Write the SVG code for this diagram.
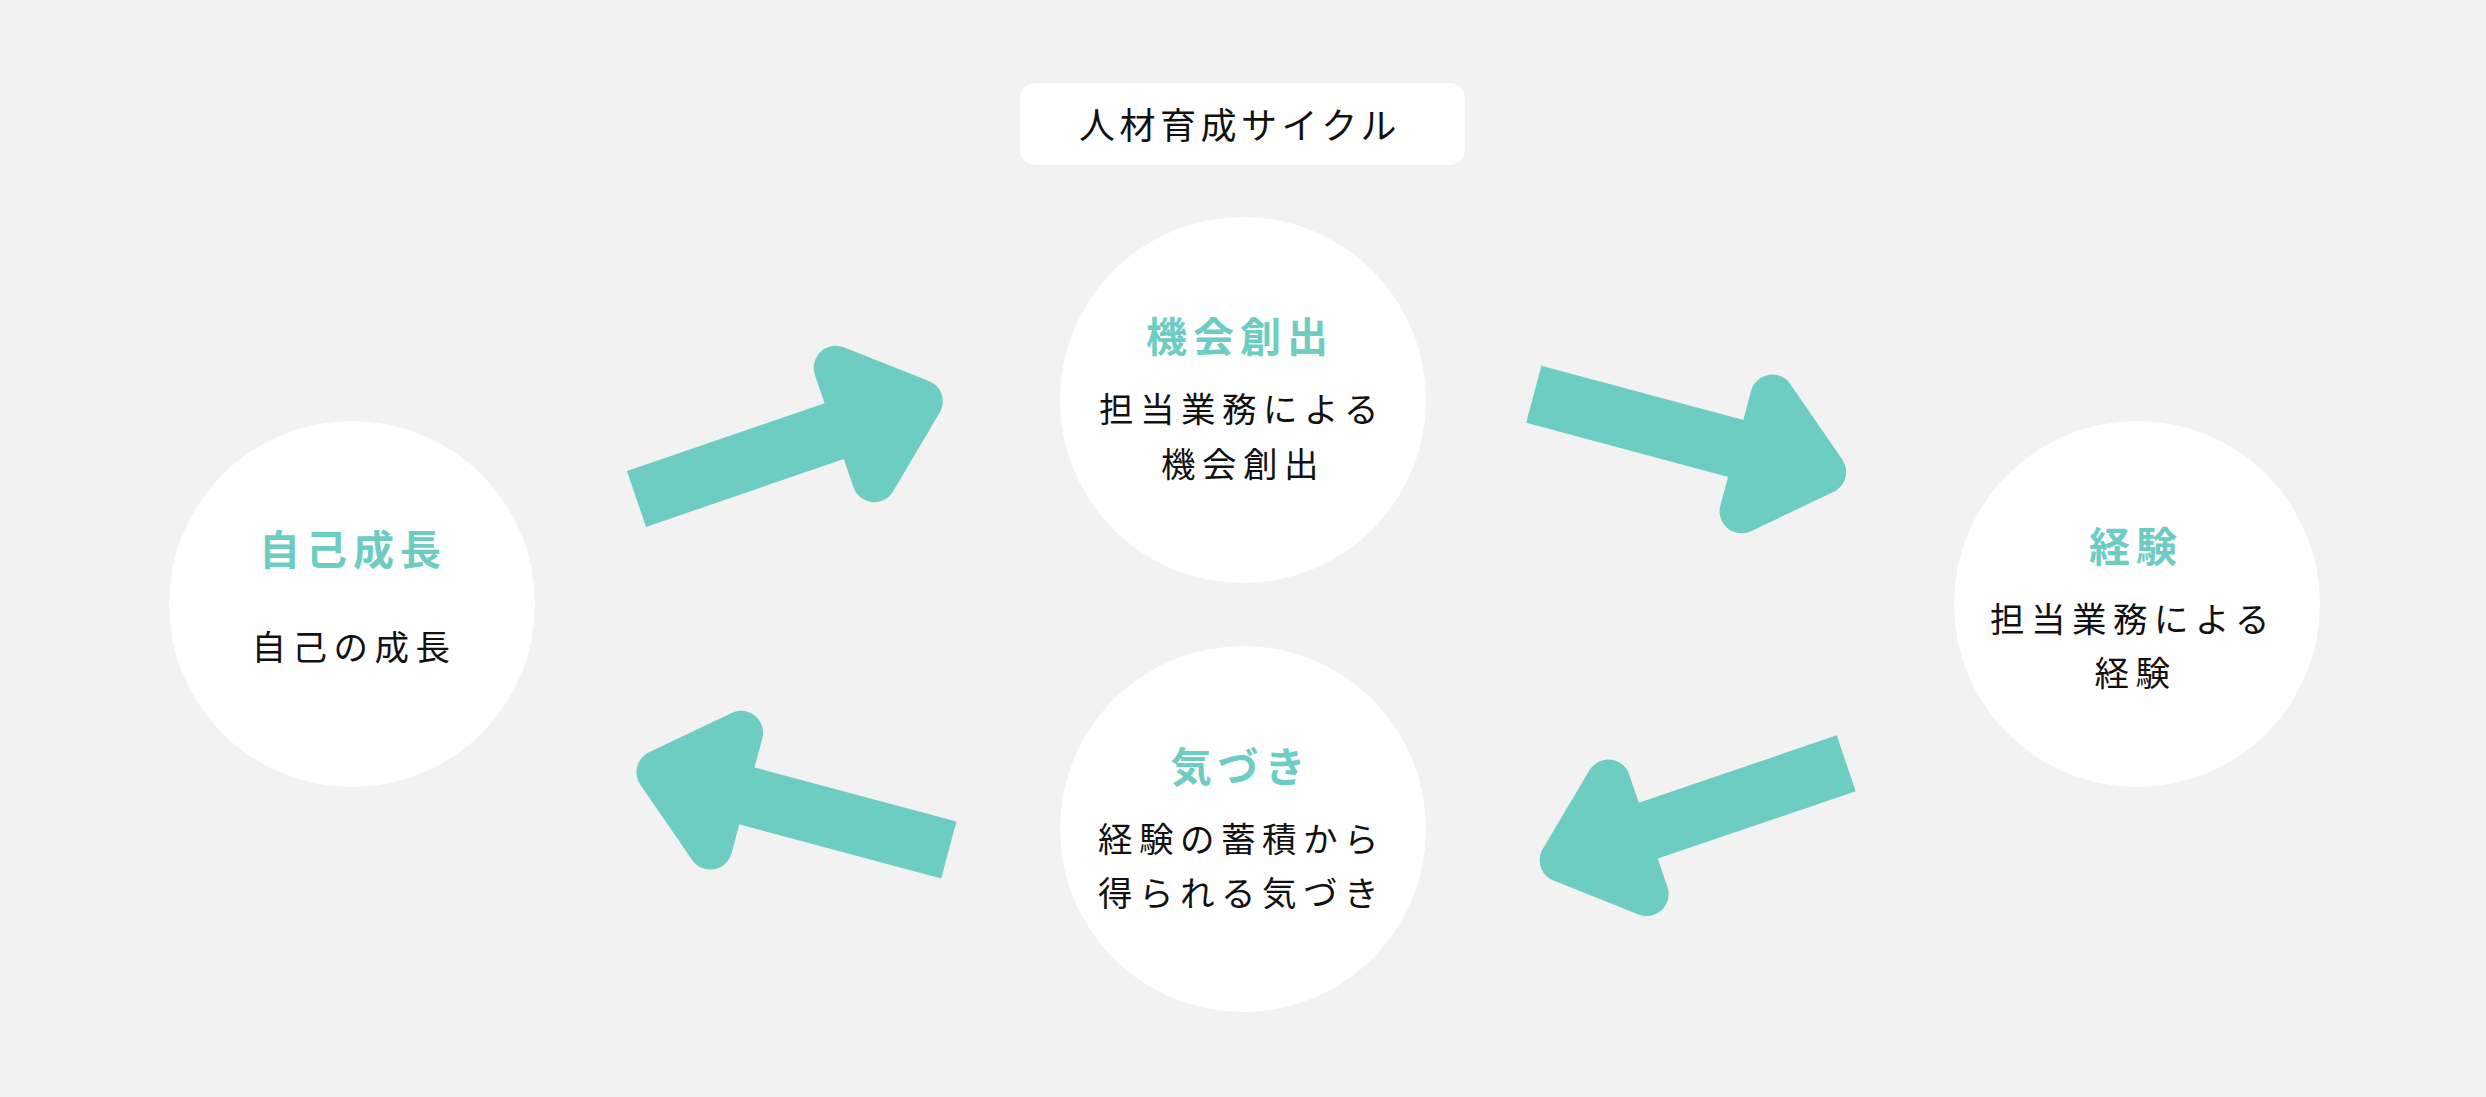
<svg xmlns="http://www.w3.org/2000/svg" xmlns:xlink="http://www.w3.org/1999/xlink" width="2486" height="1097" viewBox="0 0 2486 1097">
<style>
.bg{fill:#f2f2f2}
.node{fill:#ffffff}
.ttl{font-family:"Noto Sans CJK JP","Noto Sans",sans-serif;font-size:41px;font-weight:700;fill:#6dcdc3;letter-spacing:6px;text-anchor:middle}
.sub{font-family:"Noto Sans CJK JP","Noto Sans",sans-serif;font-size:34.5px;font-weight:400;fill:#111111;letter-spacing:6.5px;text-anchor:middle}
.head{font-family:"Noto Sans CJK JP","Noto Sans",sans-serif;font-size:36px;font-weight:400;fill:#111111;letter-spacing:4.5px;text-anchor:middle}
.arr{fill:#6dcdc3}
</style>
<defs>
<g id="arrow">
<rect class="arr" x="0" y="-29.5" width="220" height="59"/>
<polygon class="arr" points="231,-59.4 300.6,0 231,59.4" stroke="#6dcdc3" stroke-width="44" stroke-linejoin="round"/>
</g>
</defs>
<rect class="bg" x="0" y="0" width="2486" height="1097"/>
<g id="title">
<rect x="1020" y="83" width="445" height="82" rx="15" fill="#ffffff"/>
<text class="head" x="1240" y="139">人材育成サイクル</text>
</g>
<g id="connectors">
<use xlink:href="#arrow" transform="translate(636.5,499) rotate(-18.95)"/>
<use xlink:href="#arrow" transform="translate(1533.8,394.2) rotate(15)"/>
<use xlink:href="#arrow" transform="translate(1846.2,763.3) rotate(161.2)"/>
<use xlink:href="#arrow" transform="translate(948.8,850) rotate(195)"/>
</g>
<g id="node-jiko">
<circle class="node" cx="352" cy="604" r="183"/>
<text class="ttl" x="353" y="565">自己成長</text>
<text class="sub" x="354" y="660">自己の成長</text>
</g>
<g id="node-kikai">
<circle class="node" cx="1243" cy="400" r="183"/>
<text class="ttl" x="1240" y="352">機会創出</text>
<text class="sub" x="1242" y="422">担当業務による</text>
<text class="sub" x="1243" y="477">機会創出</text>
</g>
<g id="node-keiken">
<circle class="node" cx="2137" cy="604" r="183"/>
<text class="ttl" x="2136" y="562">経験</text>
<text class="sub" x="2133" y="632">担当業務による</text>
<text class="sub" x="2135.5" y="686">経験</text>
</g>
<g id="node-kizuki">
<circle class="node" cx="1243" cy="829" r="183"/>
<text class="ttl" x="1241" y="782">気づき</text>
<text class="sub" x="1241.5" y="852">経験の蓄積から</text>
<text class="sub" x="1241.5" y="906">得られる気づき</text>
</g>
</svg>
